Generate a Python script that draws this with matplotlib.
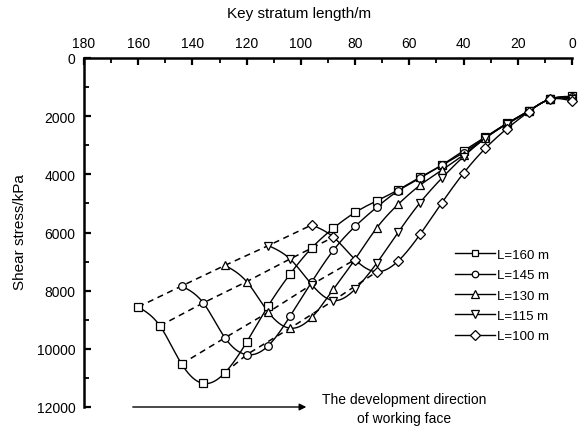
import numpy as np
import matplotlib
matplotlib.use("Agg")
import matplotlib.pyplot as plt

plt.rcParams['font.family'] = ['Liberation Sans', 'DejaVu Sans']

# ---------------- data ----------------
stations = [0, 8, 16, 24, 32, 40, 48, 56, 64, 72, 80, 88, 96, 104, 112,
            120, 128, 136, 144, 152, 160]

labels = ["L=160 m", "L=145 m", "L=130 m", "L=115 m", "L=100 m"]
markers = ["s", "o", "^", "v", "D"]

stress_160 = [1320, 1410, 1820, 2250, 2720, 3190, 3680, 4100, 4530, 4910, 5310,
              5850, 6530, 7430, 8515, 9770, 10820, 11190, 10520, 9210, 8560]
stress_145 = [1350, 1410, 1820, 2250, 2740, 3250, 3690, 4130, 4560, 5130, 5790,
              6610, 7700, 8880, 9890, 10200, 9620, 8420, 7840]
stress_130 = [1380, 1410, 1820, 2260, 2760, 3330, 3850, 4370, 5020, 5840, 6920,
              7950, 8920, 9290, 8740, 7690, 7130]
stress_115 = [1420, 1410, 1830, 2270, 2760, 3390, 4130, 4970, 5980, 7050, 7950,
              8340, 7790, 6910, 6450]
stress_100 = [1480, 1420, 1850, 2430, 3110, 3960, 4980, 6060, 6970, 7350, 6930,
              6160, 5740]

series = [stress_160, stress_145, stress_130, stress_115, stress_100]

# dashed links: station picked on each curve (L=160 ... L=100)
dashed_links = [[160, 144, 128, 112, 96],
                [152, 136, 120, 104, 88],
                [144, 128, 112, 96, 80],
                [128, 120, 104, 88, 72]]

xticks = [180, 160, 140, 120, 100, 80, 60, 40, 20, 0]
yticks = [0, 2000, 4000, 6000, 8000, 10000, 12000]


def natural_spline(x, y, xs):
    x = np.asarray(x, float)
    y = np.asarray(y, float)
    n = len(x)
    h = np.diff(x)
    A = np.zeros((n, n))
    b = np.zeros(n)
    A[0, 0] = 1
    A[-1, -1] = 1
    for i in range(1, n - 1):
        A[i, i - 1] = h[i - 1]
        A[i, i] = 2 * (h[i - 1] + h[i])
        A[i, i + 1] = h[i]
        b[i] = 6 * ((y[i + 1] - y[i]) / h[i] - (y[i] - y[i - 1]) / h[i - 1])
    M = np.linalg.solve(A, b)
    idx = np.clip(np.searchsorted(x, xs) - 1, 0, n - 2)
    x0, x1 = x[idx], x[idx + 1]
    hh = x1 - x0
    t1 = x1 - xs
    t0 = xs - x0
    return (M[idx] * t1 ** 3 / (6 * hh) + M[idx + 1] * t0 ** 3 / (6 * hh)
            + (y[idx] / hh - M[idx] * hh / 6) * t1
            + (y[idx + 1] / hh - M[idx + 1] * hh / 6) * t0)


# ---------------- figure ----------------
W, H = 579, 431
fig = plt.figure(figsize=(W / 100, H / 100), dpi=100)
ax = fig.add_axes([84 / W, 1 - 408 / H, (572 - 84) / W, (408 - 59) / H])

handles = []
for vals, lab, mk in zip(series, labels, markers):
    xs = stations[:len(vals)]
    xf = np.linspace(xs[0], xs[-1], 400)
    yf = natural_spline(xs, vals, xf)
    ax.plot(xf, yf, color='black', lw=1.0, clip_on=False, zorder=3)
    ms = 5.5 if mk in ("s", "o") else (6.3 if mk in ("^", "v") else 5.5)
    ax.plot(xs, vals, linestyle='none', marker=mk, ms=ms, mfc='white',
            mec='black', mew=0.9, clip_on=False, zorder=4)
    h, = ax.plot([], [], color='black', lw=1.0, marker=mk, ms=ms * 0.85,
                 mfc='white', mec='black', mew=0.9, label=lab)
    handles.append(h)

for link in dashed_links:
    ys = [vals[stations.index(st)] for vals, st in zip(series, link)]
    ax.plot(link, ys, color='black', lw=1.1, linestyle=(0, (4, 3)), zorder=2)

ax.set_xlim(180, 0)
ax.set_ylim(12000, 0)
ax.xaxis.tick_top()
ax.xaxis.set_label_position('top')
ax.set_xticks(xticks)
ax.set_xticks([170, 150, 130, 110, 90, 70, 50, 30, 10], minor=True)
ax.set_yticks(yticks)
ax.set_yticks([1000, 3000, 5000, 7000, 9000, 11000], minor=True)
ax.tick_params(axis='both', which='major', direction='in', length=5, width=1.6,
               labelsize=10, pad=6)
ax.tick_params(axis='both', which='minor', direction='in', length=3.5, width=1.3)
ax.tick_params(axis='x', which='both', top=True, bottom=False)
ax.tick_params(axis='y', which='both', left=True, right=False)
for s in ['right', 'bottom']:
    ax.spines[s].set_visible(False)
for s in ['top', 'left']:
    ax.spines[s].set_linewidth(1.8)

fig.text(299 / W, 1 - 14 / H, 'Key stratum length/m', ha='center', va='center',
         fontsize=11)
fig.text(20 / W, 1 - 232 / H, 'Shear stress/kPa', ha='center', va='center',
         rotation=90, fontsize=11)

leg = ax.legend(handles=handles, loc='center left',
                bbox_to_anchor=(455 / W, 1 - 296.5 / H),
                bbox_transform=fig.transFigure, frameon=False, fontsize=9.5,
                handlelength=3.0, handletextpad=0.15, labelspacing=0.62,
                borderpad=0, borderaxespad=0)

ax.annotate('', xy=(98, 12000), xytext=(162, 12000),
            arrowprops=dict(arrowstyle='-|>', color='black', lw=1.0,
                            mutation_scale=10, shrinkA=0, shrinkB=0),
            annotation_clip=False)
ax.text(62, 12050, 'The development direction\nof working face', ha='center',
        va='center', fontsize=10, linespacing=1.45, clip_on=False)

fig.savefig('out.png', dpi=100)
